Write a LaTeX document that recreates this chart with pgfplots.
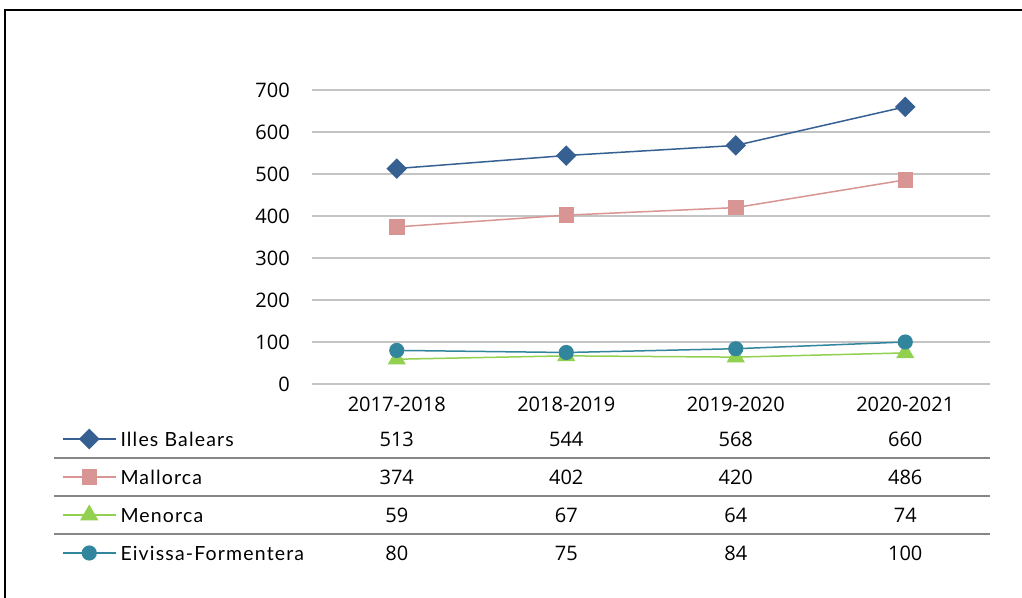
\documentclass[border=0pt]{standalone}
\usepackage{fontspec}
\setmainfont{Open Sans}
\newfontfamily\gill[LetterSpace=6]{Lato}
\usepackage{pgfplots}
\pgfplotsset{compat=1.18}
\definecolor{cIB}{HTML}{376092}
\definecolor{cMA}{HTML}{D99594}
\definecolor{cME}{HTML}{92D050}
\definecolor{cEF}{HTML}{31859C}
\definecolor{gridc}{HTML}{C4C4C4}
\definecolor{sepc}{HTML}{868686}
\begin{document}
\begin{tikzpicture}[x=1pt,y=1pt]
\useasboundingbox (0,0) rectangle (1022,597);
\fill[white] (0,0) rectangle (1022,597);
\draw[line width=2pt] (5,-5) -- (5,587) -- (1030,587);
\begin{axis}[
  at={(312pt,213pt)}, anchor=south west, scale only axis,
  width=678pt, height=294pt,
  xmin=-0.5, xmax=3.5, ymin=0, ymax=700,
  ytick={0,100,200,300,400,500,600,700},
  xtick={0,1,2,3},
  xticklabels={2017-2018,2018-2019,2019-2020,2020-2021},
  axis line style={draw=none},
  major tick length=0pt,
  ymajorgrids,
  grid style={gridc, line width=1.6pt},
  tick label style={font=\fontsize{20}{24}\selectfont},
  /pgf/number format/assume math mode=true,
  yticklabel style={anchor=east, inner sep=0pt, xshift=-22pt},
  xticklabel style={anchor=north, inner sep=0pt, yshift=-13pt},
  clip=false,
  legend cell align=left,
  legend style={
    at={(axis description cs:-0.36873,-0.15306)}, anchor=north west,
    draw=none, fill=none, inner sep=0pt, outer sep=0pt,
    row sep=18pt, column sep=4pt,
    font=\gill\fontsize{19.5}{22}\selectfont,
    nodes={inner sep=0pt, text height=17pt, text depth=3pt}},
  legend image code/.code={\draw[mark repeat=2, mark phase=2, #1] plot coordinates {(0pt,0pt) (26.5pt,0pt) (53pt,0pt)};},
]
\addplot[cIB, line width=1.5pt, mark=square*, mark size=6.5pt, mark options={rotate=45, solid, fill=cIB}]
  coordinates {(0,513) (1,544) (2,568) (3,660)};
\addlegendentry{Illes Balears}
\addplot[cMA, line width=1.5pt, mark=square*, mark size=7pt, mark options={solid, fill=cMA}]
  coordinates {(0,374) (1,402) (2,420) (3,486)};
\addlegendentry{Mallorca}
\addplot[cME, line width=1.5pt, mark=triangle*, mark size=9pt, mark options={solid, fill=cME}]
  coordinates {(0,59) (1,67) (2,64) (3,74)};
\addlegendentry{Menorca}
\addplot[cEF, line width=1.5pt, mark=*, mark size=6.8pt, mark options={solid, fill=cEF}]
  coordinates {(0,80) (1,75) (2,84) (3,100)};
\addlegendentry{Eivissa-Formentera}
\end{axis}
% table separators
\draw[sepc, line width=1.6pt] (54,139) -- (990,139);
\draw[sepc, line width=1.6pt] (54,101) -- (990,101);
\draw[sepc, line width=1.6pt] (54,63) -- (990,63);
% table values
\begin{scope}[every node/.style={font=\fontsize{20}{24}\selectfont, inner sep=0pt}]
\node at (396.75,158) {513}; \node at (566.25,158) {544}; \node at (735.75,158) {568}; \node at (905.25,158) {660};
\node at (396.75,120) {374}; \node at (566.25,120) {402}; \node at (735.75,120) {420}; \node at (905.25,120) {486};
\node at (396.75,82) {59};  \node at (566.25,82) {67};  \node at (735.75,82) {64};  \node at (905.25,82) {74};
\node at (396.75,44) {80};  \node at (566.25,44) {75};  \node at (735.75,44) {84};  \node at (905.25,44) {100};
\end{scope}
\end{tikzpicture}
\end{document}
